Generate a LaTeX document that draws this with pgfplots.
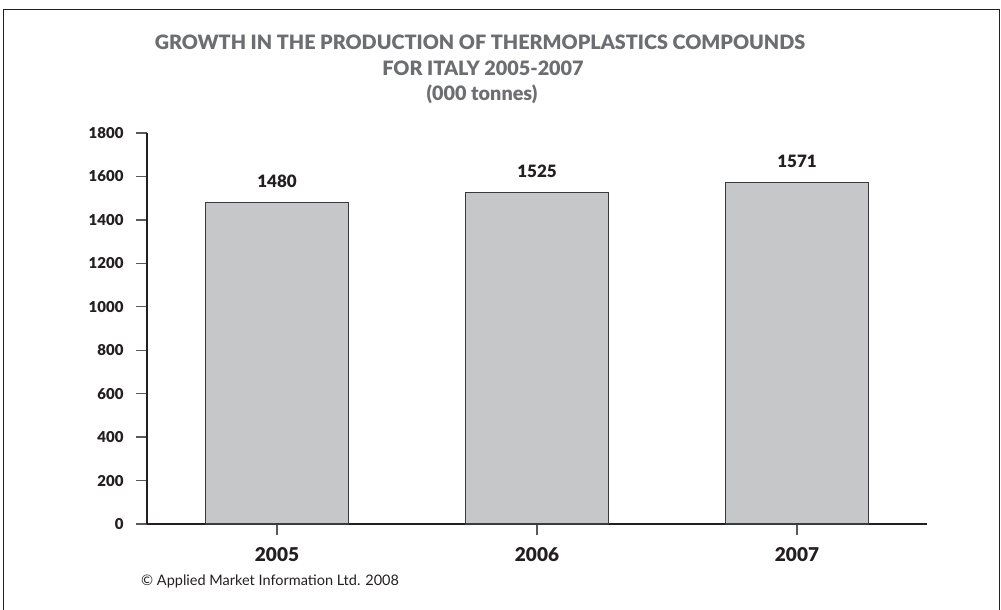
\documentclass[border=0pt]{standalone}
\usepackage{pgfplots}
\pgfplotsset{compat=1.18}
\usepackage{fontspec}
\setmainfont{Lato}
\newfontfamily\blk{Lato Black}
\definecolor{barfill}{HTML}{C6C7C9}
\definecolor{bardraw}{HTML}{3A3A3C}
\definecolor{txt}{HTML}{231F20}
\definecolor{ttl}{HTML}{6D6E71}
\definecolor{tickc}{HTML}{58595B}
\begin{document}
\begin{tikzpicture}[x=1bp,y=1bp]
\useasboundingbox (0,0) rectangle (1001,-610);
\draw[line width=1.5bp, color=txt] (3.5,-610) -- (3.5,-9.5) -- (999.5,-9.5) -- (999.5,-610);
\node[font=\fontsize{19.8bp}{22bp}\selectfont\blk, text=ttl] at (480,-42) {GROWTH IN THE PRODUCTION OF THERMOPLASTICS COMPOUNDS};
\node[font=\fontsize{19.8bp}{22bp}\selectfont\blk, text=ttl] at (483,-68) {FOR ITALY 2005-2007};
\node[font=\fontsize{19.8bp}{22bp}\selectfont\blk, text=ttl] at (482,-94) {(000 tonnes)};
\node[font=\fontsize{14.5bp}{16bp}\selectfont, text=txt, anchor=west, inner sep=0pt] at (141,-581) {\textcopyright{} Applied Market Information Ltd. 2008};
\begin{axis}[
  at={(147bp,-524bp)}, anchor=south west,
  scale only axis, width=780bp, height=391bp,
  xmin=-0.5, xmax=2.5, ymin=0, ymax=1800,
  axis x line*=bottom, axis y line*=left,
  axis line style={color=txt, line width=1.3bp},
  ytick={0,200,...,1800},
  xtick={0,1,2}, xticklabels={2005,2006,2007},
  tick align=outside,
  major tick length=11bp,
  y tick style={color=tickc, line width=1.3bp},
  x tick style={color=tickc, line width=1.3bp},
  yticklabel style={font=\fontsize{15bp}{17bp}\selectfont\blk, text=txt, xshift=-9bp},
  xticklabel style={font=\fontsize{19bp}{21bp}\selectfont\blk, text=txt, yshift=-9bp},
  /pgf/number format/assume math mode=true,
  /pgf/number format/1000 sep={},
  ybar, bar width=143bp,
  nodes near coords,
  every node near coord/.append style={font=\fontsize{17bp}{19bp}\selectfont\blk, text=txt, anchor=center, yshift=21bp},
]
\addplot[fill=barfill, draw=bardraw, line width=1.2bp] coordinates {(0,1480) (1,1525) (2,1571)};
\end{axis}
\end{tikzpicture}
\end{document}
